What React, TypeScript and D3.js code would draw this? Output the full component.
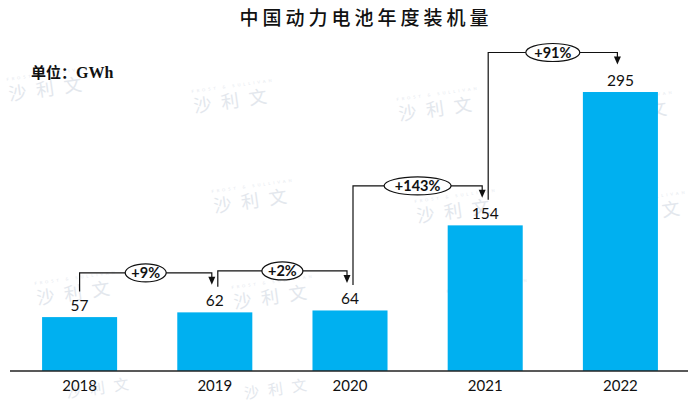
import React from "react";
import * as d3 from "d3";

const years = ["2018", "2019", "2020", "2021", "2022"];
const values = [57, 62, 64, 154, 295];
const growthLabels = ["+9%", "+2%", "+143%", "+91%"];
const titleText = "中国动力电池年度装机量";
const unitText = "单位：";
const unitSuffix = "GWh";
const watermarkText = "沙利文";
const watermarkSpots: [number, number][] = [
  [50, 88], [235, 100], [440, 108], [635, 112],
  [255, 200], [458, 210], [648, 212],
  [78, 292], [275, 296], [490, 300],
  [102, 389], [280, 390],
];

const W = 700;
const H = 401;

export default function App() {
  const x = d3.scaleBand<string>().domain(years).range([12, 688]).paddingInner(0.445).paddingOuter(0.2225);
  const y = d3.scaleLinear().domain([0, 350]).range([371, 40]);
  const bw = x.bandwidth();
  const cx = (i: number) => (x(years[i]) as number) + bw / 2;
  const labelBase = (i: number) => y(values[i]) - 6.5;
  const numFont = "Lato, 'Open Sans', sans-serif";

  return (
    <svg width={W} height={H} style={{ position: "absolute", left: 0, top: 0, background: "#fff" }}>
      <rect x={0} y={0} width={W} height={H} fill="#fff" />
      {/* watermarks */}
      {watermarkSpots.map(([wx, wy], i) => (
        <g key={"wm" + i} transform={`translate(${wx},${wy}) rotate(-8)`}>
          {wy < 360 && (
            <text x={0} y={-13} textAnchor="middle" fontSize={4} fill="#e4e8ee" letterSpacing={3} fontFamily="Lato, sans-serif">
              FROST &amp; SULLIVAN
            </text>
          )}
          <text x={0} y={wy < 360 ? 7 : 4} textAnchor="middle" fontSize={wy < 360 ? 18 : 15} fill="#e3e7ed"
            letterSpacing={wy < 360 ? 10 : 9} fontFamily="'Noto Sans CJK SC', sans-serif">
            {watermarkText}
          </text>
        </g>
      ))}
      {/* title */}
      <text x={366} y={25} textAnchor="middle" fontSize={19} letterSpacing={4} fontWeight={500}
        fontFamily="'Noto Sans CJK SC', sans-serif" fill="#111">
        {titleText}
      </text>
      <text x={31} y={78} fontSize={15} fontWeight={700} fill="#111" fontFamily="'Liberation Serif', 'Noto Sans CJK SC', serif">
        <tspan fontFamily="'Noto Sans CJK SC', sans-serif">{unitText}</tspan>
        <tspan fontFamily="'Liberation Serif', serif" fontSize={16}>{unitSuffix}</tspan>
      </text>
      {/* bars */}
      {values.map((v, i) => (
        <rect key={"b" + i} x={x(years[i])} y={y(v)} width={bw} height={y(0) - y(v)} fill="#00B0F0" />
      ))}
      {/* value labels */}
      {values.map((v, i) => (
        <text key={"v" + i} x={cx(i)} y={labelBase(i)} textAnchor="middle" fontSize={15.5} fill="#111" fontFamily={numFont}>
          {v}
        </text>
      ))}
      {/* axis */}
      <line x1={10} x2={688} y1={y(0)} y2={y(0)} stroke="#222" strokeWidth={1.3} />
      {years.map((yr, i) => (
        <text key={"y" + i} x={cx(i)} y={391} textAnchor="middle" fontSize={15} fill="#111" fontFamily={numFont}>
          {yr}
        </text>
      ))}
      {/* growth brackets */}
      {growthLabels.map((g, i) => {
        const x0 = i === 0 ? cx(i) : cx(i) + 3;
        const x1 = cx(i + 1) - 3;
        const yb0 = labelBase(i) - 19;
        const ytop = labelBase(i + 1) - 33;
        const tip = labelBase(i + 1) - 21;
        const mx = (x0 + x1) / 2;
        const rx = 6.5 * g.length + 1;
        return (
          <g key={"g" + i}>
            <path d={`M${x0},${yb0}V${ytop}H${x1}V${tip - 7}`} fill="none" stroke="#111" strokeWidth={1.2} />
            <path d={`M${x1 - 3.5},${tip - 8}L${x1 + 3.5},${tip - 8}L${x1},${tip}Z`} fill="#111" />
            <ellipse cx={mx} cy={ytop} rx={rx} ry={9} fill="#fff" stroke="#111" strokeWidth={1.2} />
            <text x={mx} y={ytop + 5} textAnchor="middle" fontSize={14.5} fontWeight={700} fill="#111" fontFamily={numFont}>
              {g}
            </text>
          </g>
        );
      })}
    </svg>
  );
}
